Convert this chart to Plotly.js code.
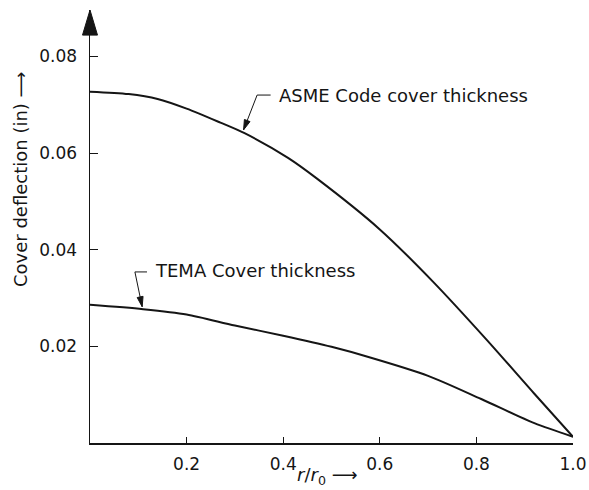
<!DOCTYPE html>
<html>
<head>
<meta charset="utf-8">
<script src="https://cdn.plot.ly/plotly-3.0.1.min.js"></script>
<style>html,body{margin:0;padding:0;background:#fff;}#chart{width:589px;height:490px;}</style>
</head>
<body>
<div id="chart"></div>
<script>
// r/r0 positions and cover deflection (in)
const asmeX = [0, 0.08, 0.14, 0.20, 0.27, 0.32, 0.41, 0.47, 0.60, 0.71, 0.82, 0.92, 1.0];
const asmeY = [0.0727, 0.0722, 0.0712, 0.0692, 0.0663, 0.0641, 0.0590, 0.0547, 0.0442, 0.0334, 0.0215, 0.0102, 0.0013];
const temaX = [0, 0.11, 0.20, 0.30, 0.40, 0.50, 0.58, 0.70, 0.81, 0.92, 1.0];
const temaY = [0.0286, 0.0277, 0.0266, 0.0243, 0.0222, 0.0199, 0.0177, 0.0139, 0.0091, 0.0041, 0.0013];
const xTicks = [0.2, 0.4, 0.6, 0.8, 1.0];
const xTickText = ['0.2', '0.4', '0.6', '0.8', '1.0'];
const yTicks = [0.02, 0.04, 0.06, 0.08];
const yTickText = ['0.02', '0.04', '0.06', '0.08'];
const asmeLabel = 'ASME Code cover thickness';
const temaLabel = 'TEMA Cover thickness';
const xTitle = '<i>r</i>/<i>r</i><sub>0</sub> \u27F6';
const yTitle = 'Cover deflection (in) \u27F6';

const ink = '#151515';
const tickFont = {family: 'DejaVu Sans, Arial, sans-serif', size: 17, color: ink};
const labelFont = {family: 'DejaVu Sans, Arial, sans-serif', size: 18, color: ink};

const W = 589, H = 490, M = {l: 90, r: 16, t: 10, b: 47};
const X_RANGE = [0, 1.0], Y_RANGE = [0, 0.0896];
const plotW = W - M.l - M.r, plotH = H - M.t - M.b;
const pxPerX = plotW / (X_RANGE[1] - X_RANGE[0]);
const pxPerY = plotH / (Y_RANGE[1] - Y_RANGE[0]);

// leader line (elbow + slanted line) ending in a filled arrowhead, built in data space
function leader(elbowEnd, elbow, tip) {
  const dxp = (elbow[0] - tip[0]) * pxPerX, dyp = -(elbow[1] - tip[1]) * pxPerY;
  const len = Math.hypot(dxp, dyp), ux = dxp / len, uy = dyp / len;
  const nx = -uy, ny = ux, hl = 10, hw = 3;
  const p = (ox, oy) => [tip[0] + ox / pxPerX, tip[1] - oy / pxPerY];
  const a = p(ux * hl + nx * hw, uy * hl + ny * hw);
  const b = p(ux * hl - nx * hw, uy * hl - ny * hw);
  return [
    {type: 'path', xref: 'x', yref: 'y', path: `M ${elbowEnd[0]} ${elbowEnd[1]} L ${elbow[0]} ${elbow[1]} L ${tip[0]} ${tip[1]}`, line: {color: ink, width: 1}},
    {type: 'path', xref: 'x', yref: 'y', path: `M ${tip[0]} ${tip[1]} L ${a[0]} ${a[1]} L ${b[0]} ${b[1]} Z`, fillcolor: ink, line: {color: ink, width: 1}}
  ];
}

const traces = [
  {x: asmeX, y: asmeY, name: asmeLabel, mode: 'lines', line: {color: ink, width: 2, shape: 'spline', smoothing: 0.8}},
  {x: temaX, y: temaY, name: temaLabel, mode: 'lines', line: {color: ink, width: 2, shape: 'spline', smoothing: 0.8}}
];

const layout = {
  width: W, height: H,
  margin: M,
  paper_bgcolor: '#fff', plot_bgcolor: '#fff',
  showlegend: false,
  font: tickFont,
  xaxis: {
    range: X_RANGE, tickvals: xTicks, ticktext: xTickText,
    ticks: 'inside', ticklen: 6, tickwidth: 1, tickcolor: ink,
    showline: true, linecolor: ink, linewidth: 1.5,
    showgrid: false, zeroline: false, ticklabelstandoff: 5,
    tickfont: tickFont
  },
  yaxis: {
    range: Y_RANGE, tickvals: yTicks, ticktext: yTickText,
    ticks: 'inside', ticklen: 8, tickwidth: 1, tickcolor: ink,
    showline: true, linecolor: ink, linewidth: 1.5,
    showgrid: false, zeroline: false, ticklabelstandoff: 8,
    tickfont: tickFont
  },
  shapes: [
    // arrowhead on top of the y axis
    {type: 'path', xref: 'paper', yref: 'paper', path: 'M -0.0155 0.942 L 0 1.0 L 0.0155 0.942 Z', fillcolor: ink, line: {color: ink, width: 1}}
  ].concat(
    leader([0.374, 0.0720], [0.346, 0.0720], [0.318, 0.0648]),
    leader([0.118, 0.0354], [0.093, 0.0354], [0.108, 0.0282])
  ),
  annotations: [
    {x: 0.387, y: 0.0720, xref: 'x', yref: 'y', text: asmeLabel, showarrow: false, xanchor: 'left', yanchor: 'middle', font: labelFont},
    {x: 0.130, y: 0.0356, xref: 'x', yref: 'y', text: temaLabel, showarrow: false, xanchor: 'left', yanchor: 'middle', font: labelFont},
    {x: (20 - M.l) / plotW, y: (443 - 180) / plotH, xref: 'paper', yref: 'paper', text: yTitle, showarrow: false, textangle: -90, font: labelFont, xanchor: 'center', yanchor: 'middle'},
    {x: (327 - M.l) / plotW, y: (443 - 476) / plotH, xref: 'paper', yref: 'paper', text: xTitle, showarrow: false, font: labelFont, xanchor: 'center', yanchor: 'middle'}
  ]
};

Plotly.newPlot('chart', traces, layout, {displayModeBar: false, staticPlot: true});
</script>
</body>
</html>
